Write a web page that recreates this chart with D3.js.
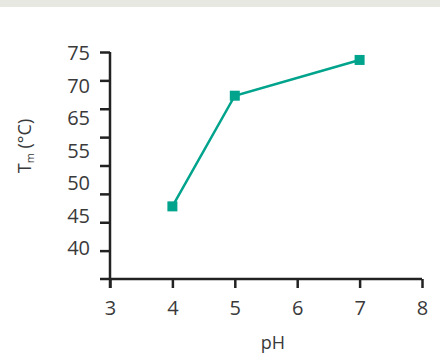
<!DOCTYPE html>
<html>
<head>
<meta charset="utf-8">
<script src="https://cdn.jsdelivr.net/npm/d3@7"></script>
<style>
  body { margin: 0; background: #fff; }
  text { font-family: "Open Sans", sans-serif; fill: #3a3a3a; }
</style>
</head>
<body>
<div id="chart"></div>
<script>
// data
const pH = [4, 5, 7]
const tm = [47.8, 67.3, 73.6]
const xTicks = [3, 4, 5, 6, 7, 8]
const yTicks = [40, 45, 50, 55, 60, 65, 70, 75]
const yLabels = ["75", "70", "65", "55", "50", "45", "40"]

const width = 440
const height = 359
const teal = "#00a38c"
const ink = "#222"

const svg = d3.select("#chart").append("svg")
  .attr("width", width)
  .attr("height", height)

// grey strip along the top
svg.append("rect")
  .attr("x", 0).attr("y", 0)
  .attr("width", width).attr("height", 7)
  .attr("fill", "#e8e8e3")

const x = d3.scaleLinear().domain([3, 8]).range([110, 422])
const y = d3.scaleLinear().domain([35, 75]).range([279, 52])
// the labels on the y axis are spaced on their own, not on the ticks
const yLab = d3.scalePoint().domain(yLabels).range([53, 248])

// x axis
const xAxis = svg.append("g")
  .attr("transform", "translate(0," + y(35) + ")")
  .call(d3.axisBottom(x).tickValues(xTicks).tickFormat(d3.format("d"))
    .tickSize(9).tickPadding(13).tickSizeOuter(0))
xAxis.select(".domain").remove()
xAxis.selectAll("line").attr("stroke", ink).attr("stroke-width", 2.5)
xAxis.selectAll("text").style("font-size", "20px").attr("fill", "#3a3a3a")
xAxis.append("line")
  .attr("x1", x(3) - 10).attr("x2", x(8))
  .attr("stroke", ink).attr("stroke-width", 2.5)

// y axis (ticks only, labels added below)
const yAxis = svg.append("g")
  .attr("transform", "translate(" + x(3) + ",0)")
  .call(d3.axisLeft(y).tickValues(yTicks).tickSize(10).tickFormat(""))
yAxis.select(".domain").remove()
yAxis.selectAll("line").attr("stroke", ink).attr("stroke-width", 2.5)
yAxis.append("line")
  .attr("y1", y(75)).attr("y2", y(35) + 9)
  .attr("stroke", ink).attr("stroke-width", 2.5)

svg.append("g")
  .selectAll("text")
  .data(yLabels)
  .enter().append("text")
  .attr("x", 90)
  .attr("y", d => yLab(d))
  .attr("dy", "0.36em")
  .attr("text-anchor", "end")
  .style("font-size", "20px")
  .text(d => d)

// axis titles
svg.append("text")
  .attr("x", 273)
  .attr("y", 349)
  .attr("text-anchor", "middle")
  .style("font-size", "18px")
  .text("pH")

const yTitle = svg.append("text")
  .attr("transform", "translate(31,146) rotate(-90)")
  .attr("text-anchor", "middle")
  .style("font-size", "18px")
yTitle.append("tspan").text("T")
yTitle.append("tspan").attr("dy", 3).style("font-size", "11px").text("m")
yTitle.append("tspan").attr("dy", -3).text(" (°C)")

// series
const points = pH.map((p, i) => [p, tm[i]])

svg.append("path")
  .datum(points)
  .attr("fill", "none")
  .attr("stroke", teal)
  .attr("stroke-width", 2.5)
  .attr("d", d3.line().x(d => x(d[0])).y(d => y(d[1])))

svg.append("g")
  .selectAll("rect")
  .data(points)
  .enter().append("rect")
  .attr("x", d => x(d[0]) - 5)
  .attr("y", d => y(d[1]) - 5)
  .attr("width", 10)
  .attr("height", 10)
  .attr("fill", teal)
</script>
</body>
</html>
